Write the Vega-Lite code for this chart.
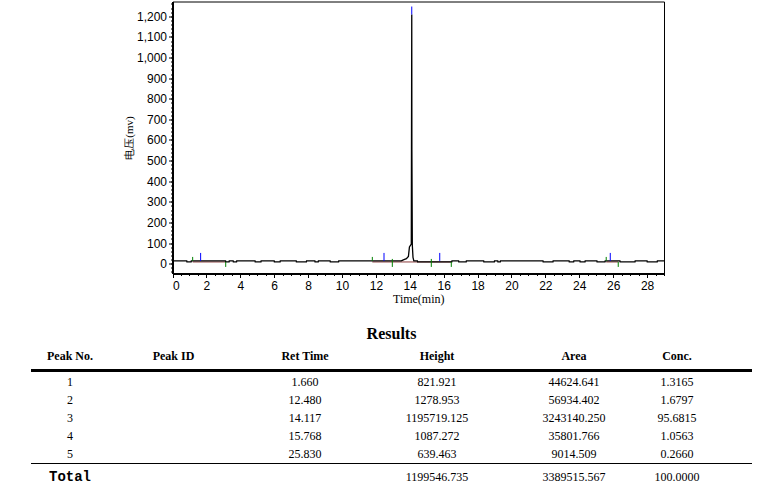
{
  "$schema": "https://vega.github.io/schema/vega-lite/v6.json",
  "background": "white",
  "padding": {"left": 29, "top": 1.5, "right": 0, "bottom": 0},
  "spacing": 21,
  "config": {
    "view": {"stroke": null},
    "font": "Liberation Sans"
  },
  "datasets": {
    "trace": [
      {"t": 0, "mv": 13}, {"t": 0.84, "mv": 13}, {"t": 0.85, "mv": 8}, {"t": 1.10, "mv": 8}, {"t": 1.11, "mv": 13},
      {"t": 3.13, "mv": 13}, {"t": 3.14, "mv": 8}, {"t": 3.34, "mv": 8}, {"t": 3.35, "mv": 13},
      {"t": 3.58, "mv": 13}, {"t": 3.59, "mv": 8}, {"t": 3.78, "mv": 8}, {"t": 3.79, "mv": 13},
      {"t": 4.87, "mv": 13}, {"t": 4.88, "mv": 8}, {"t": 5.22, "mv": 8}, {"t": 5.23, "mv": 13},
      {"t": 6.00, "mv": 13}, {"t": 6.01, "mv": 8}, {"t": 6.35, "mv": 8}, {"t": 6.36, "mv": 13},
      {"t": 7.30, "mv": 13}, {"t": 7.31, "mv": 8}, {"t": 7.90, "mv": 8}, {"t": 7.91, "mv": 13},
      {"t": 8.40, "mv": 13}, {"t": 8.41, "mv": 8}, {"t": 8.60, "mv": 8}, {"t": 8.61, "mv": 13},
      {"t": 9.30, "mv": 13}, {"t": 9.31, "mv": 8}, {"t": 9.80, "mv": 8}, {"t": 9.81, "mv": 13},
      {"t": 13.50, "mv": 13}, {"t": 13.62, "mv": 18}, {"t": 13.80, "mv": 24}, {"t": 13.92, "mv": 35},
      {"t": 13.98, "mv": 81}, {"t": 14.09, "mv": 95}, {"t": 14.117, "mv": 1208.7}, {"t": 14.125, "mv": 553},
      {"t": 14.15, "mv": 90}, {"t": 14.19, "mv": 30}, {"t": 14.24, "mv": 13},
      {"t": 14.45, "mv": 13}, {"t": 14.46, "mv": 8}, {"t": 16.48, "mv": 8}, {"t": 16.49, "mv": 13},
      {"t": 16.88, "mv": 13}, {"t": 16.89, "mv": 8}, {"t": 17.33, "mv": 8}, {"t": 17.34, "mv": 13},
      {"t": 18.36, "mv": 13}, {"t": 18.37, "mv": 8}, {"t": 18.99, "mv": 8}, {"t": 19.00, "mv": 13},
      {"t": 19.19, "mv": 13}, {"t": 19.20, "mv": 8}, {"t": 19.34, "mv": 8}, {"t": 19.35, "mv": 13},
      {"t": 21.86, "mv": 13}, {"t": 21.87, "mv": 8}, {"t": 22.45, "mv": 8}, {"t": 22.46, "mv": 13},
      {"t": 23.40, "mv": 13}, {"t": 23.41, "mv": 8}, {"t": 23.67, "mv": 8}, {"t": 23.68, "mv": 13},
      {"t": 24.04, "mv": 13}, {"t": 24.05, "mv": 8}, {"t": 24.34, "mv": 8}, {"t": 24.35, "mv": 13},
      {"t": 25.04, "mv": 13}, {"t": 25.05, "mv": 8}, {"t": 25.52, "mv": 8}, {"t": 25.53, "mv": 13},
      {"t": 26.40, "mv": 13}, {"t": 26.41, "mv": 8}, {"t": 27.29, "mv": 8}, {"t": 27.30, "mv": 13},
      {"t": 28.00, "mv": 13}, {"t": 28.01, "mv": 8}, {"t": 28.60, "mv": 8}, {"t": 28.61, "mv": 13},
      {"t": 29.00, "mv": 13}
    ],
    "events": [
      {"peak": 1, "kind": "start", "t": 1.19, "mv": 13},
      {"peak": 1, "kind": "apex", "t": 1.660, "mv": 13},
      {"peak": 1, "kind": "end", "t": 3.14, "mv": 13},
      {"peak": 2, "kind": "start", "t": 11.79, "mv": 13},
      {"peak": 2, "kind": "apex", "t": 12.480, "mv": 13},
      {"peak": 3, "kind": "split", "t": 12.97, "mv": 13},
      {"peak": 3, "kind": "apex", "t": 14.117, "mv": 1208.7},
      {"peak": 4, "kind": "split", "t": 15.27, "mv": 13},
      {"peak": 4, "kind": "apex", "t": 15.768, "mv": 13},
      {"peak": 4, "kind": "end", "t": 16.45, "mv": 13},
      {"peak": 5, "kind": "start", "t": 25.59, "mv": 13},
      {"peak": 5, "kind": "apex", "t": 25.830, "mv": 13},
      {"peak": 5, "kind": "end", "t": 26.30, "mv": 13}
    ],
    "baselines": [
      {"peak": 1, "start": 1.19, "end": 3.14, "mv": 8},
      {"peak": 2, "start": 11.79, "end": 12.97, "mv": 8},
      {"peak": 3, "start": 12.97, "end": 15.27, "mv": 8},
      {"peak": 4, "start": 15.27, "end": 16.45, "mv": 8},
      {"peak": 5, "start": 25.59, "end": 26.30, "mv": 8}
    ],
    "columns": [
      {"key": "peak", "label": "Peak No.", "order": 0},
      {"key": "id", "label": "Peak ID", "order": 1},
      {"key": "ret", "label": "Ret Time", "order": 2},
      {"key": "height", "label": "Height", "order": 3},
      {"key": "area", "label": "Area", "order": 4},
      {"key": "conc", "label": "Conc.", "order": 5}
    ],
    "results": [
      {"peak": "1", "id": "", "ret": "1.660", "height": "821.921", "area": "44624.641", "conc": "1.3165"},
      {"peak": "2", "id": "", "ret": "12.480", "height": "1278.953", "area": "56934.402", "conc": "1.6797"},
      {"peak": "3", "id": "", "ret": "14.117", "height": "1195719.125", "area": "3243140.250", "conc": "95.6815"},
      {"peak": "4", "id": "", "ret": "15.768", "height": "1087.272", "area": "35801.766", "conc": "1.0563"},
      {"peak": "5", "id": "", "ret": "25.830", "height": "639.463", "area": "9014.509", "conc": "0.2660"},
      {"peak": "Total", "id": "", "ret": "", "height": "1199546.735", "area": "3389515.567", "conc": "100.0000"}
    ]
  },
  "vconcat": [
    {
      "width": 633,
      "height": 272,
      "resolve": {"axis": {"x": "independent", "y": "independent"}},
      "layer": [
        {
          "data": {"name": "baselines"},
          "mark": {"type": "rule", "color": "#8c3c3c", "strokeWidth": 1},
          "encoding": {
            "x": {
              "field": "start", "type": "quantitative",
              "scale": {"domain": [0, 29], "range": [141.5, 633], "nice": false, "zero": false},
              "axis": {"orient": "bottom", "tickCount": 58, "labels": false, "domain": false, "grid": false, "title": null, "ticks": true, "tickSize": 2, "tickColor": "#000", "tickWidth": 1}
            },
            "x2": {"field": "end"},
            "y": {
              "field": "mv", "type": "quantitative",
              "scale": {"domain": [-48, 1272], "nice": false, "zero": false},
              "axis": {"orient": "left", "offset": -141.5, "tickCount": 66, "labels": false, "domain": false, "grid": false, "title": null, "ticks": true, "tickSize": 2, "tickColor": "#000", "tickWidth": 1}
            }
          }
        },
        {
          "data": {"name": "trace"},
          "mark": {"type": "line", "color": "#000", "strokeWidth": 1.3},
          "encoding": {
            "x": {
              "field": "t", "type": "quantitative",
              "scale": {"domain": [0, 29], "range": [141.5, 633], "nice": false, "zero": false},
              "axis": {
                "orient": "bottom", "values": [0, 2, 4, 6, 8, 10, 12, 14, 16, 18, 20, 22, 24, 26, 28], "format": "d",
                "grid": false, "domain": true, "domainColor": "#000", "domainWidth": 2,
                "ticks": true, "tickSize": 4, "tickColor": "#000", "tickWidth": 1,
                "labelFont": "Liberation Sans", "labelFontSize": 12, "labelColor": "#000", "labelPadding": 3,
                "title": "Time(min)", "titleFont": "Liberation Serif", "titleFontSize": 12, "titleFontWeight": "normal", "titleColor": "#000", "titlePadding": 2
              }
            },
            "y": {
              "field": "mv", "type": "quantitative",
              "scale": {"domain": [-48, 1272], "nice": false, "zero": false},
              "axis": {
                "orient": "left", "offset": -141.5,
                "values": [0, 100, 200, 300, 400, 500, 600, 700, 800, 900, 1000, 1100, 1200], "format": ",d",
                "grid": false, "domain": true, "domainColor": "#000", "domainWidth": 2,
                "ticks": true, "tickSize": 4, "tickColor": "#000", "tickWidth": 1,
                "labelFont": "Liberation Sans", "labelFontSize": 12, "labelColor": "#000", "labelPadding": 2,
                "title": "电压(mv)", "titleFont": "Liberation Serif", "titleFontSize": 11, "titleFontWeight": "normal", "titleColor": "#000",
                "titleX": -43, "titleY": 136, "titleBaseline": "middle", "titleAlign": "center", "titleAngle": 270
              }
            }
          }
        },
        {
          "data": {"name": "events"},
          "transform": [{"filter": "datum.kind === 'start'"}],
          "mark": {"type": "rule", "color": "#008000", "strokeWidth": 1, "y2Offset": -4},
          "encoding": {
            "x": {"field": "t", "type": "quantitative",
                  "axis": {"orient": "top", "domain": true, "domainColor": "#000", "domainWidth": 1, "ticks": false, "labels": false, "grid": false, "title": null}},
            "y": {"field": "mv", "type": "quantitative",
                  "axis": {"orient": "right", "domain": true, "domainColor": "#000", "domainWidth": 1, "ticks": false, "labels": false, "grid": false, "title": null}},
            "y2": {"field": "mv"}
          }
        },
        {
          "data": {"name": "events"},
          "transform": [{"filter": "datum.kind === 'split'"}],
          "mark": {"type": "rule", "color": "#008000", "strokeWidth": 1, "yOffset": -2, "y2Offset": 6},
          "encoding": {
            "x": {"field": "t", "type": "quantitative", "axis": null},
            "y": {"field": "mv", "type": "quantitative", "axis": null},
            "y2": {"field": "mv"}
          }
        },
        {
          "data": {"name": "events"},
          "transform": [{"filter": "datum.kind === 'end'"}],
          "mark": {"type": "rule", "color": "#008000", "strokeWidth": 1, "yOffset": 1, "y2Offset": 6},
          "encoding": {
            "x": {"field": "t", "type": "quantitative", "axis": null},
            "y": {"field": "mv", "type": "quantitative", "axis": null},
            "y2": {"field": "mv"}
          }
        },
        {
          "data": {"name": "events"},
          "transform": [{"filter": "datum.kind === 'apex'"}],
          "mark": {"type": "rule", "color": "#0000ff", "strokeWidth": 1, "y2Offset": -8},
          "encoding": {
            "x": {"field": "t", "type": "quantitative", "axis": null},
            "y": {"field": "mv", "type": "quantitative", "axis": null},
            "y2": {"field": "mv"}
          }
        }
      ]
    },
    {
      "width": 721,
      "height": 108,
      "view": {"stroke": null},
      "title": {
        "text": "Results", "font": "Liberation Serif", "fontSize": 16, "fontWeight": "bold", "color": "#000",
        "anchor": "middle", "frame": "group", "offset": 0, "baseline": "middle"
      },
      "layer": [
        {
          "data": {"name": "columns"},
          "mark": {"type": "text", "font": "Liberation Serif", "fontSize": 12, "fontWeight": "bold", "color": "#000", "align": "center", "baseline": "middle", "yOffset": -8},
          "encoding": {
            "x": {"field": "order", "type": "quantitative", "axis": null,
                  "scale": {"domain": [0, 1, 2, 3, 4, 5], "range": [39, 142.5, 274, 406, 543, 646], "nice": false, "zero": false}},
            "y": {"datum": "header", "type": "nominal", "axis": null,
                  "scale": {"type": "point", "domain": ["header", "1", "2", "3", "4", "5", "Total"], "padding": 0}},
            "text": {"field": "label"}
          }
        },
        {
          "data": {"name": "columns"},
          "transform": [{"filter": "datum.order === 0"}],
          "mark": {"type": "rule", "color": "#000", "strokeWidth": 3, "yOffset": 7},
          "encoding": {
            "y": {"datum": "header", "type": "nominal", "axis": null}
          }
        },
        {
          "data": {"name": "results"},
          "transform": [
            {"filter": "datum.peak !== 'Total'"},
            {"fold": ["peak", "id", "ret", "height", "area", "conc"], "as": ["key", "value"]},
            {"lookup": "key", "from": {"data": {"name": "columns"}, "key": "key", "fields": ["order"]}}
          ],
          "mark": {"type": "text", "font": "Liberation Serif", "fontSize": 12, "color": "#000", "align": "center", "baseline": "middle"},
          "encoding": {
            "x": {"field": "order", "type": "quantitative", "axis": null},
            "y": {"field": "peak", "type": "nominal", "axis": null},
            "text": {"field": "value"}
          }
        },
        {
          "data": {"name": "results"},
          "transform": [{"filter": "datum.peak === 'Total'"}],
          "mark": {"type": "rule", "color": "#000", "strokeWidth": 1, "yOffset": -8},
          "encoding": {
            "y": {"field": "peak", "type": "nominal", "axis": null}
          }
        },
        {
          "data": {"name": "results"},
          "transform": [
            {"filter": "datum.peak === 'Total'"},
            {"fold": ["height", "area", "conc"], "as": ["key", "value"]},
            {"lookup": "key", "from": {"data": {"name": "columns"}, "key": "key", "fields": ["order"]}}
          ],
          "mark": {"type": "text", "font": "Liberation Serif", "fontSize": 12, "color": "#000", "align": "center", "baseline": "middle", "yOffset": 5},
          "encoding": {
            "x": {"field": "order", "type": "quantitative", "axis": null},
            "y": {"field": "peak", "type": "nominal", "axis": null},
            "text": {"field": "value"}
          }
        },
        {
          "data": {"name": "results"},
          "transform": [
            {"filter": "datum.peak === 'Total'"},
            {"fold": ["peak"], "as": ["key", "value"]},
            {"lookup": "key", "from": {"data": {"name": "columns"}, "key": "key", "fields": ["order"]}}
          ],
          "mark": {"type": "text", "font": "Liberation Mono", "fontSize": 14, "fontWeight": "bold", "color": "#000", "align": "center", "baseline": "middle", "yOffset": 5},
          "encoding": {
            "x": {"field": "order", "type": "quantitative", "axis": null},
            "y": {"field": "peak", "type": "nominal", "axis": null},
            "text": {"field": "value"}
          }
        }
      ]
    }
  ]
}
